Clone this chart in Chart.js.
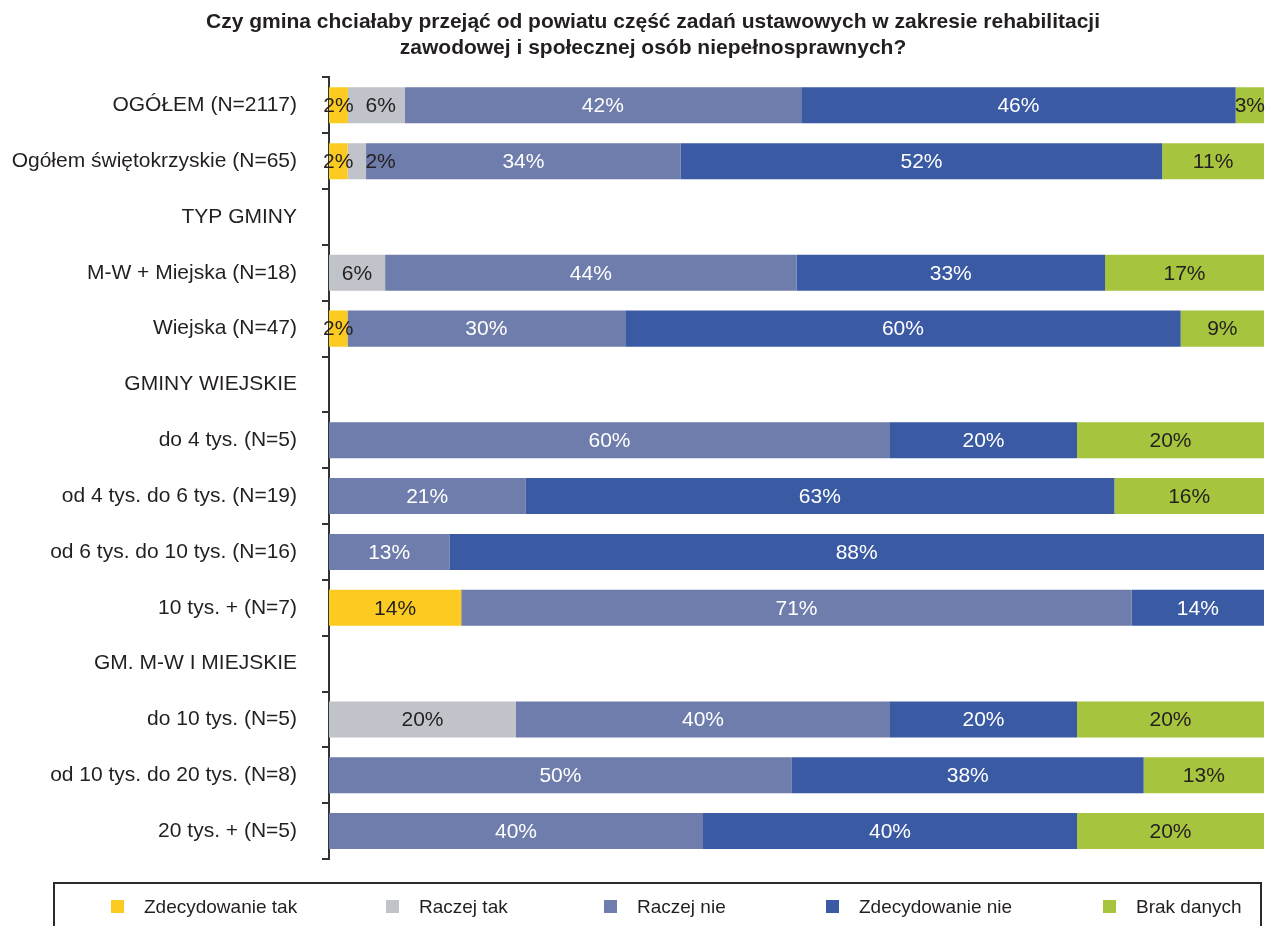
<!DOCTYPE html>
<html>
<head>
<meta charset="utf-8">
<script src="https://cdn.jsdelivr.net/npm/chart.js@4.4.1/dist/chart.umd.min.js"></script>
<style>
  html, body { margin: 0; padding: 0; background: #fff; }
  #wrap { width: 1271px; height: 926px; }
</style>
</head>
<body>
<div id="wrap"><canvas id="chart"></canvas></div>
<script>
const categories = [
  'OGÓŁEM (N=2117)',
  'Ogółem świętokrzyskie (N=65)',
  'TYP GMINY',
  'M-W + Miejska (N=18)',
  'Wiejska (N=47)',
  'GMINY WIEJSKIE',
  'do 4 tys. (N=5)',
  'od 4 tys. do 6 tys. (N=19)',
  'od 6 tys. do 10 tys. (N=16)',
  '10 tys. + (N=7)',
  'GM. M-W I MIEJSKIE',
  'do 10 tys. (N=5)',
  'od 10 tys. do 20 tys. (N=8)',
  '20 tys. + (N=5)'
];

const seriesNames = ['Zdecydowanie tak', 'Raczej tak', 'Raczej nie', 'Zdecydowanie nie', 'Brak danych'];

const zdecydowanieTak = [2, 2, 0, 0, 2, 0, 0, 0, 0, 14, 0, 0, 0, 0];
const raczejTak       = [6, 2, 0, 6, 0, 0, 0, 0, 0, 0, 0, 20, 0, 0];
const raczejNie       = [42, 34, 0, 44, 30, 0, 60, 21, 13, 71, 0, 40, 50, 40];
const zdecydowanieNie = [46, 52, 0, 33, 60, 0, 20, 63, 88, 14, 0, 20, 38, 40];
const brakDanych      = [3, 11, 0, 17, 9, 0, 20, 16, 0, 0, 0, 20, 13, 20];

const colors = ['#FCCB21', '#C1C3CB', '#6E7DAB', '#3A5AA4', '#A6C43D'];
const labelColors = ['#231F20', '#231F20', '#ffffff', '#ffffff', '#231F20'];

const allSeries = [zdecydowanieTak, raczejTak, raczejNie, zdecydowanieNie, brakDanych];

// rows are drawn as 100% bars, so each row is scaled by its own total
const rowTotals = categories.map((c, i) => allSeries.reduce((s, arr) => s + arr[i], 0));

const FONT = '"Liberation Sans", Arial, Helvetica, sans-serif';
const TEXT = '#231F20';

const segmentLabels = {
  id: 'segmentLabels',
  afterDatasetsDraw(chart) {
    const ctx = chart.ctx;
    ctx.save();
    ctx.font = '21px ' + FONT;
    ctx.textAlign = 'center';
    ctx.textBaseline = 'middle';
    const lastRight = {};
    chart.data.datasets.forEach((ds, di) => {
      const meta = chart.getDatasetMeta(di);
      meta.data.forEach((bar, i) => {
        const v = ds.raw[i];
        if (!v) return;
        const text = v + '%';
        const w = ctx.measureText(text).width;
        let cx = (bar.x + bar.base) / 2;
        // push a label right if it would run into the previous one
        if (lastRight[i] !== undefined && cx - w / 2 < lastRight[i] + 12) {
          cx = lastRight[i] + 12 + w / 2;
        }
        lastRight[i] = cx + w / 2;
        ctx.fillStyle = ds.labelColor;
        ctx.fillText(text, cx, bar.y + 1);
      });
    });
    ctx.restore();
  }
};

// title sits a little right of the page centre in the original
const titleShift = {
  id: 'titleShift',
  afterLayout(chart) {
    const t = chart.titleBlock;
    if (t) { t.left += 21; t.right += 21; }
  }
};

const boxedLegend = {
  id: 'boxedLegend',
  afterDraw(chart) {
    const ctx = chart.ctx;
    const cols = [111, 386, 604, 826, 1103];
    ctx.save();
    ctx.strokeStyle = '#2b2b2b';
    ctx.lineWidth = 2;
    ctx.strokeRect(54, 883, 1207, 80);
    ctx.font = '19px ' + FONT;
    ctx.textBaseline = 'middle';
    ctx.textAlign = 'left';
    chart.data.datasets.forEach((ds, i) => {
      ctx.fillStyle = ds.backgroundColor;
      ctx.fillRect(cols[i], 900, 13, 13);
      ctx.fillStyle = TEXT;
      ctx.fillText(ds.label, cols[i] + 33, 908);
    });
    ctx.restore();
  }
};

const datasets = allSeries.map((arr, k) => ({
  label: seriesNames[k],
  data: arr.map((v, i) => rowTotals[i] ? v / rowTotals[i] * 100 : 0),
  raw: arr,
  backgroundColor: colors[k],
  labelColor: labelColors[k],
  borderWidth: 0,
  barPercentage: 0.645,
  categoryPercentage: 1
}));

new Chart(document.getElementById('chart'), {
  type: 'bar',
  data: { labels: categories, datasets: datasets },
  options: {
    indexAxis: 'y',
    responsive: true,
    maintainAspectRatio: false,
    animation: false,
    layout: { padding: { left: 0, right: 7, top: 0, bottom: 67 } },
    plugins: {
      legend: { display: false },
      tooltip: { enabled: false },
      title: {
        display: true,
        text: [
          'Czy gmina chciałaby przejąć od powiatu część zadań ustawowych w zakresie rehabilitacji',
          'zawodowej i społecznej osób niepełnosprawnych?'
        ],
        color: TEXT,
        font: { family: FONT, size: 21, weight: 'bold', lineHeight: 1.2 },
        padding: { top: 10, bottom: 17 }
      }
    },
    scales: {
      x: {
        stacked: true,
        display: false,
        min: 0,
        max: 100
      },
      y: {
        stacked: true,
        afterFit(scale) { scale.width = 329; },
        border: { display: true, color: '#333', width: 2 },
        grid: {
          display: true,
          offset: true,
          drawOnChartArea: false,
          drawTicks: true,
          tickLength: 7,
          color: '#333',
          lineWidth: 2
        },
        ticks: {
          color: TEXT,
          padding: 25,
          font: { family: FONT, size: 21 }
        }
      }
    }
  },
  plugins: [segmentLabels, titleShift, boxedLegend]
});
</script>
</body>
</html>
